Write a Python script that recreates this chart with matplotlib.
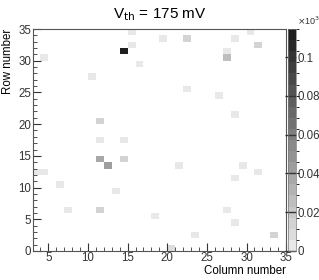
import numpy as np
import matplotlib
matplotlib.use("Agg")
import matplotlib.pyplot as plt
from matplotlib.colors import ListedColormap, BoundaryNorm
from matplotlib.ticker import MultipleLocator, FuncFormatter

plt.rcParams['font.family'] = ['Liberation Sans', 'DejaVu Sans']

# hit map: column bin, row bin, counts
cols = [15, 19, 22, 28, 30, 15, 31, 14, 27, 27, 4, 16, 10, 22, 26, 28, 11, 11, 14,
        11, 12, 14, 3, 4, 21, 29, 31, 28, 6, 13, 7, 11, 27, 18, 28, 23, 33, 20]
rows = [34, 33, 33, 33, 34, 32, 32, 31, 31, 30, 30, 29, 27, 25, 24, 21, 20, 17, 17,
        14, 13, 14, 12, 12, 13, 13, 12, 11, 10, 9, 6, 6, 6, 5, 4, 2, 2, 0]
counts = [3, 3, 16, 3, 3, 3, 14, 109, 4, 24, 3, 3, 3, 3, 3, 3, 13, 3, 3,
          38, 45, 14, 3, 3, 3, 3, 3, 3, 3, 3, 3, 13, 3, 3, 3, 3, 13, 9]

title = r"V$_{\mathrm{th}}$ = 175 mV"
n_levels = 20
zmax = 1.05 * max(counts)

grid = np.zeros((36, 36))
for c, r, v in zip(cols, rows, counts):
    grid[r, c] = v
grid = np.ma.masked_equal(grid, 0)

greys = [str(0.91 - i * (0.91 - 0.12) / (n_levels - 1)) for i in range(n_levels)]
cmap = ListedColormap(greys)
norm = BoundaryNorm(np.linspace(0, zmax, n_levels + 1), n_levels)

fig = plt.figure(figsize=(3.19, 2.80), dpi=100)
ax = fig.add_axes([0.102, 0.104, 0.795, 0.792])
edges = np.arange(37)
mesh = ax.pcolormesh(edges, edges, grid, cmap=cmap, norm=norm)

ax.set_xlim(3, 35)
ax.set_ylim(0, 35)
ax.xaxis.set_major_locator(MultipleLocator(5))
ax.xaxis.set_minor_locator(MultipleLocator(1))
ax.yaxis.set_major_locator(MultipleLocator(5))
ax.yaxis.set_minor_locator(MultipleLocator(1))
ax.tick_params(which='both', direction='in', labelsize=8.3, colors='#333333', pad=1)
ax.tick_params(which='major', length=6)
ax.tick_params(which='minor', length=3)
for s in ax.spines.values():
    s.set_color('#555555')
    s.set_linewidth(0.8)

ax.set_title(title, fontsize=11, pad=8)
ax.set_xlabel("Column number", fontsize=8.3, loc='right')
ax.set_ylabel("Row number", fontsize=8.3, loc='top')
ax.xaxis.set_label_coords(1.0, -0.062)
ax.yaxis.set_label_coords(-0.075, 1.0)

cax = fig.add_axes([0.903, 0.104, 0.025, 0.792])
cb = fig.colorbar(mesh, cax=cax, ticks=[0, 20, 40, 60, 80, 100])
cb.outline.set_linewidth(0.5)
cb.outline.set_edgecolor('#777777')
cax.yaxis.set_major_formatter(FuncFormatter(lambda v, p: "0" if v == 0 else "%g" % (v / 1000)))
cax.tick_params(direction='in', length=8, width=1, colors='#333333', labelsize=8.3, pad=1)
fig.text(0.93, 0.905, r"$\times$10$^3$", fontsize=6.5, ha='left', va='bottom', color='#333333')

fig.savefig("out.png", dpi=100)
